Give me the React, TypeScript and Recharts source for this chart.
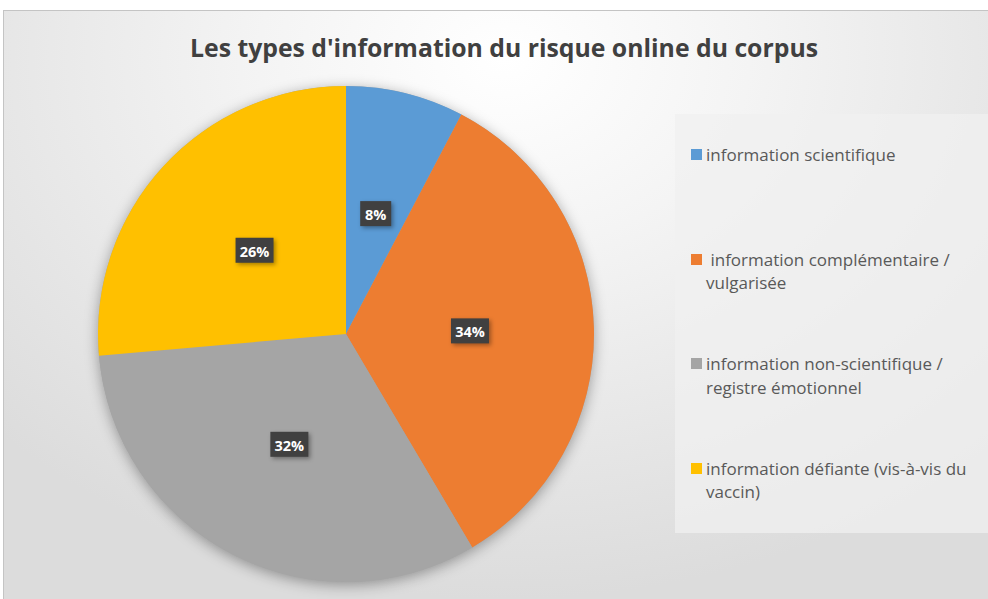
import React from "react";
import { PieChart, Pie, Cell, Legend } from "recharts";

const categories = [
  "information scientifique",
  " information complémentaire / vulgarisée",
  "information non-scientifique / registre émotionnel",
  "information défiante (vis-à-vis du vaccin)",
];
const legendLines = [
  ["information scientifique"],
  ["\u00a0information complémentaire /", "vulgarisée"],
  ["information non-scientifique /", "registre émotionnel"],
  ["information défiante (vis-à-vis du", "vaccin)"],
];
const values = [7.7, 33.8, 32.1, 26.4];
const colors = ["#5b9bd5", "#ed7d31", "#a5a5a5", "#ffc000"];
const title = "Les types d'information du risque online du corpus";

const data = categories.map((name, i) => ({ name, value: values[i] }));
const RAD = Math.PI / 180;

const renderLabel = (props: any) => {
  const { cx, cy, midAngle, outerRadius, percent } = props;
  const r = outerRadius * 0.5;
  const x = cx + r * Math.cos(-midAngle * RAD);
  const y = cy + r * Math.sin(-midAngle * RAD);
  const txt = `${Math.round(percent * 100)}%`;
  const w = txt.length === 2 ? 31 : 38;
  const h = 25;
  return (
    <g>
      <rect
        x={x - w / 2}
        y={y - h / 2}
        width={w}
        height={h}
        fill="#404040"
        style={{ filter: "drop-shadow(2px 2px 2px rgba(0,0,0,0.35))" }}
      />
      <text
        x={x}
        y={y + 1}
        fill="#ffffff"
        textAnchor="middle"
        dominantBaseline="central"
        fontFamily="'Open Sans', sans-serif"
        fontWeight={700}
        fontSize={14.5}
      >
        {txt}
      </text>
    </g>
  );
};

const LegendContent = () => (
  <div
    style={{
      width: 313,
      height: 419,
      background: "rgba(240,240,240,0.75)",
      boxSizing: "border-box",
      paddingTop: 143 - 114,
      paddingLeft: 16,
      fontFamily: "'Open Sans', sans-serif",
      fontSize: 17,
      color: "#595959",
    }}
  >
    {legendLines.map((lines, i) => (
      <div key={i} style={{ height: 104.5, display: "flex", alignItems: "flex-start" }}>
        <div
          style={{
            width: 11,
            height: 11,
            background: colors[i],
            marginTop: 6,
            marginRight: 4,
            flex: "none",
          }}
        />
        <div style={{ lineHeight: "23.5px", whiteSpace: "nowrap" }}>
          {lines.map((l, j) => (
            <div key={j}>{l}</div>
          ))}
        </div>
      </div>
    ))}
  </div>
);

export default function App() {
  return (
    <div
      style={{
        position: "absolute",
        left: 0,
        top: 0,
        width: 988,
        height: 599,
        background: "#ffffff",
        overflow: "hidden",
      }}
    >
      <div
        style={{
          position: "absolute",
          left: 3,
          top: 10,
          width: 1000,
          height: 600,
          borderLeft: "1px solid #c4c4c4",
          borderTop: "1px solid #c4c4c4",
          background:
            "radial-gradient(ellipse 70% 90% at 50% 8%, #ffffff 0%, #f4f4f4 35%, #dcdcdc 100%)",
        }}
      />
      <svg
        width={988}
        height={80}
        style={{ position: "absolute", left: 0, top: 0 }}
      >
        <text
          x={504}
          y={57}
          textAnchor="middle"
          fontFamily="'Open Sans', sans-serif"
          fontWeight={700}
          fontSize={25}
          fill="#404040"
          textLength={628}
          lengthAdjust="spacingAndGlyphs"
        >
          {title}
        </text>
      </svg>
      <div style={{ position: "absolute", left: 0, top: 0 }}>
        <PieChart width={988} height={599} margin={{ top: 0, right: 0, bottom: 0, left: 0 }}>
          <Pie
            data={[{ name: "shadow", value: 1 }]}
            dataKey="value"
            cx={346}
            cy={334}
            outerRadius={248}
            startAngle={90}
            endAngle={-270}
            stroke="none"
            isAnimationActive={false}
            legendType="none"
          >
            <Cell
              fill="#a5a5a5"
              style={{ filter: "drop-shadow(0px 3px 7px rgba(0,0,0,0.35))" }}
            />
          </Pie>
          <Pie
            data={data}
            dataKey="value"
            nameKey="name"
            cx={346}
            cy={334}
            outerRadius={248}
            startAngle={90}
            endAngle={-270}
            stroke="none"
            label={renderLabel}
            labelLine={false}
            isAnimationActive={false}
          >
            {data.map((d, i) => (
              <Cell key={d.name} fill={colors[i]} />
            ))}
          </Pie>
          <Legend
            content={<LegendContent />}
            layout="vertical"
            wrapperStyle={{ position: "absolute", left: 675, top: 114, width: 313, height: 419 }}
          />
        </PieChart>
      </div>
    </div>
  );
}
